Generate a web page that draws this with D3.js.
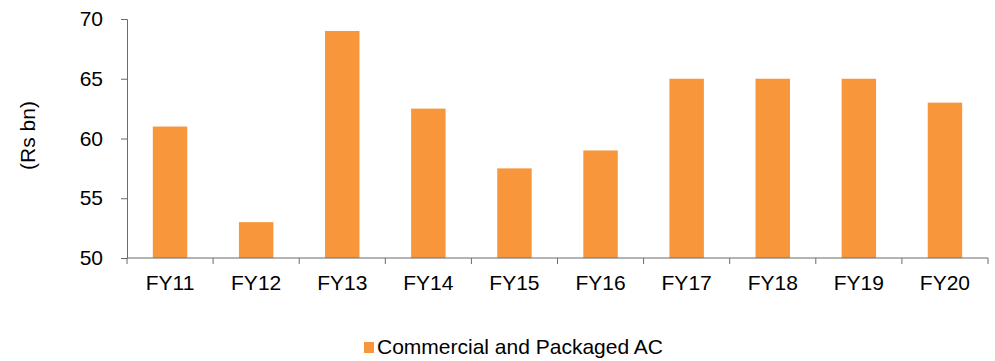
<!DOCTYPE html>
<html>
<head>
<meta charset="utf-8">
<script src="https://cdn.jsdelivr.net/npm/d3@7"></script>
<style>
  html, body { margin: 0; padding: 0; background: #fff; }
  svg text { font-family: "Liberation Sans", Arial, sans-serif; fill: #000; }
</style>
</head>
<body>
<svg id="chart" width="995" height="361"></svg>
<script>
// Commercial and packaged AC market size, Rs bn
const categories = ["FY11", "FY12", "FY13", "FY14", "FY15", "FY16", "FY17", "FY18", "FY19", "FY20"];
const values = [61, 53, 69, 62.5, 57.5, 59, 65, 65, 65, 63];
const yTicks = [50, 55, 60, 65, 70];
const seriesName = "Commercial and Packaged AC";
const yTitle = "(Rs bn)";

const svg = d3.select("#chart");
const margin = { left: 127, right: 7, top: 19, bottom: 103 };
const W = 995, H = 361;
const barColor = "#F7963A";
const axisColor = "#6b6b6b";
const fontSize = "21px";

const x = d3.scaleBand()
  .domain(categories)
  .range([margin.left, W - margin.right])
  .paddingInner(0.6)
  .paddingOuter(0.3);

const y = d3.scaleLinear()
  .domain([50, 70])
  .range([H - margin.bottom, margin.top]);

// bars
svg.append("g")
  .selectAll("rect")
  .data(values)
  .join("rect")
  .attr("x", (d, i) => x(categories[i]))
  .attr("y", d => y(d))
  .attr("width", x.bandwidth())
  .attr("height", d => y(50) - y(d))
  .attr("fill", barColor);

// y axis
const yAxis = svg.append("g")
  .attr("transform", `translate(${margin.left},0)`)
  .call(d3.axisLeft(y).tickValues(yTicks).tickSize(6).tickPadding(18));
yAxis.select(".domain").attr("stroke", axisColor).attr("stroke-width", 1);
yAxis.selectAll(".tick line").attr("stroke", axisColor);
yAxis.selectAll("text").attr("font-size", fontSize).attr("fill", "#000")
  .attr("font-family", "'Liberation Sans', Arial, sans-serif");

// x axis with boundary ticks between categories
const xAxisY = y(50);
const xg = svg.append("g").attr("transform", `translate(0,${xAxisY})`);
xg.append("line")
  .attr("x1", margin.left).attr("x2", W - margin.right)
  .attr("stroke", axisColor);
const bounds = d3.range(categories.length + 1)
  .map(i => margin.left + i * (W - margin.left - margin.right) / categories.length);
xg.selectAll("line.tk")
  .data(bounds)
  .join("line")
  .attr("class", "tk")
  .attr("x1", d => d).attr("x2", d => d)
  .attr("y1", 0).attr("y2", 6)
  .attr("stroke", axisColor);
xg.selectAll("text")
  .data(categories)
  .join("text")
  .attr("x", d => x(d) + x.bandwidth() / 2)
  .attr("y", 32)
  .attr("text-anchor", "middle")
  .attr("font-size", fontSize)
  .text(d => d);

// y title
svg.append("text")
  .attr("transform", `translate(35,${(margin.top + xAxisY) / 2 - 3}) rotate(-90)`)
  .attr("text-anchor", "middle")
  .attr("font-size", fontSize)
  .text(yTitle);

// legend
const lg = svg.append("g").attr("transform", "translate(364,342)");
lg.append("rect").attr("width", 10).attr("height", 11).attr("fill", barColor);
lg.append("text").attr("x", 13).attr("y", 11.5).attr("font-size", fontSize).text(seriesName);
</script>
</body>
</html>
